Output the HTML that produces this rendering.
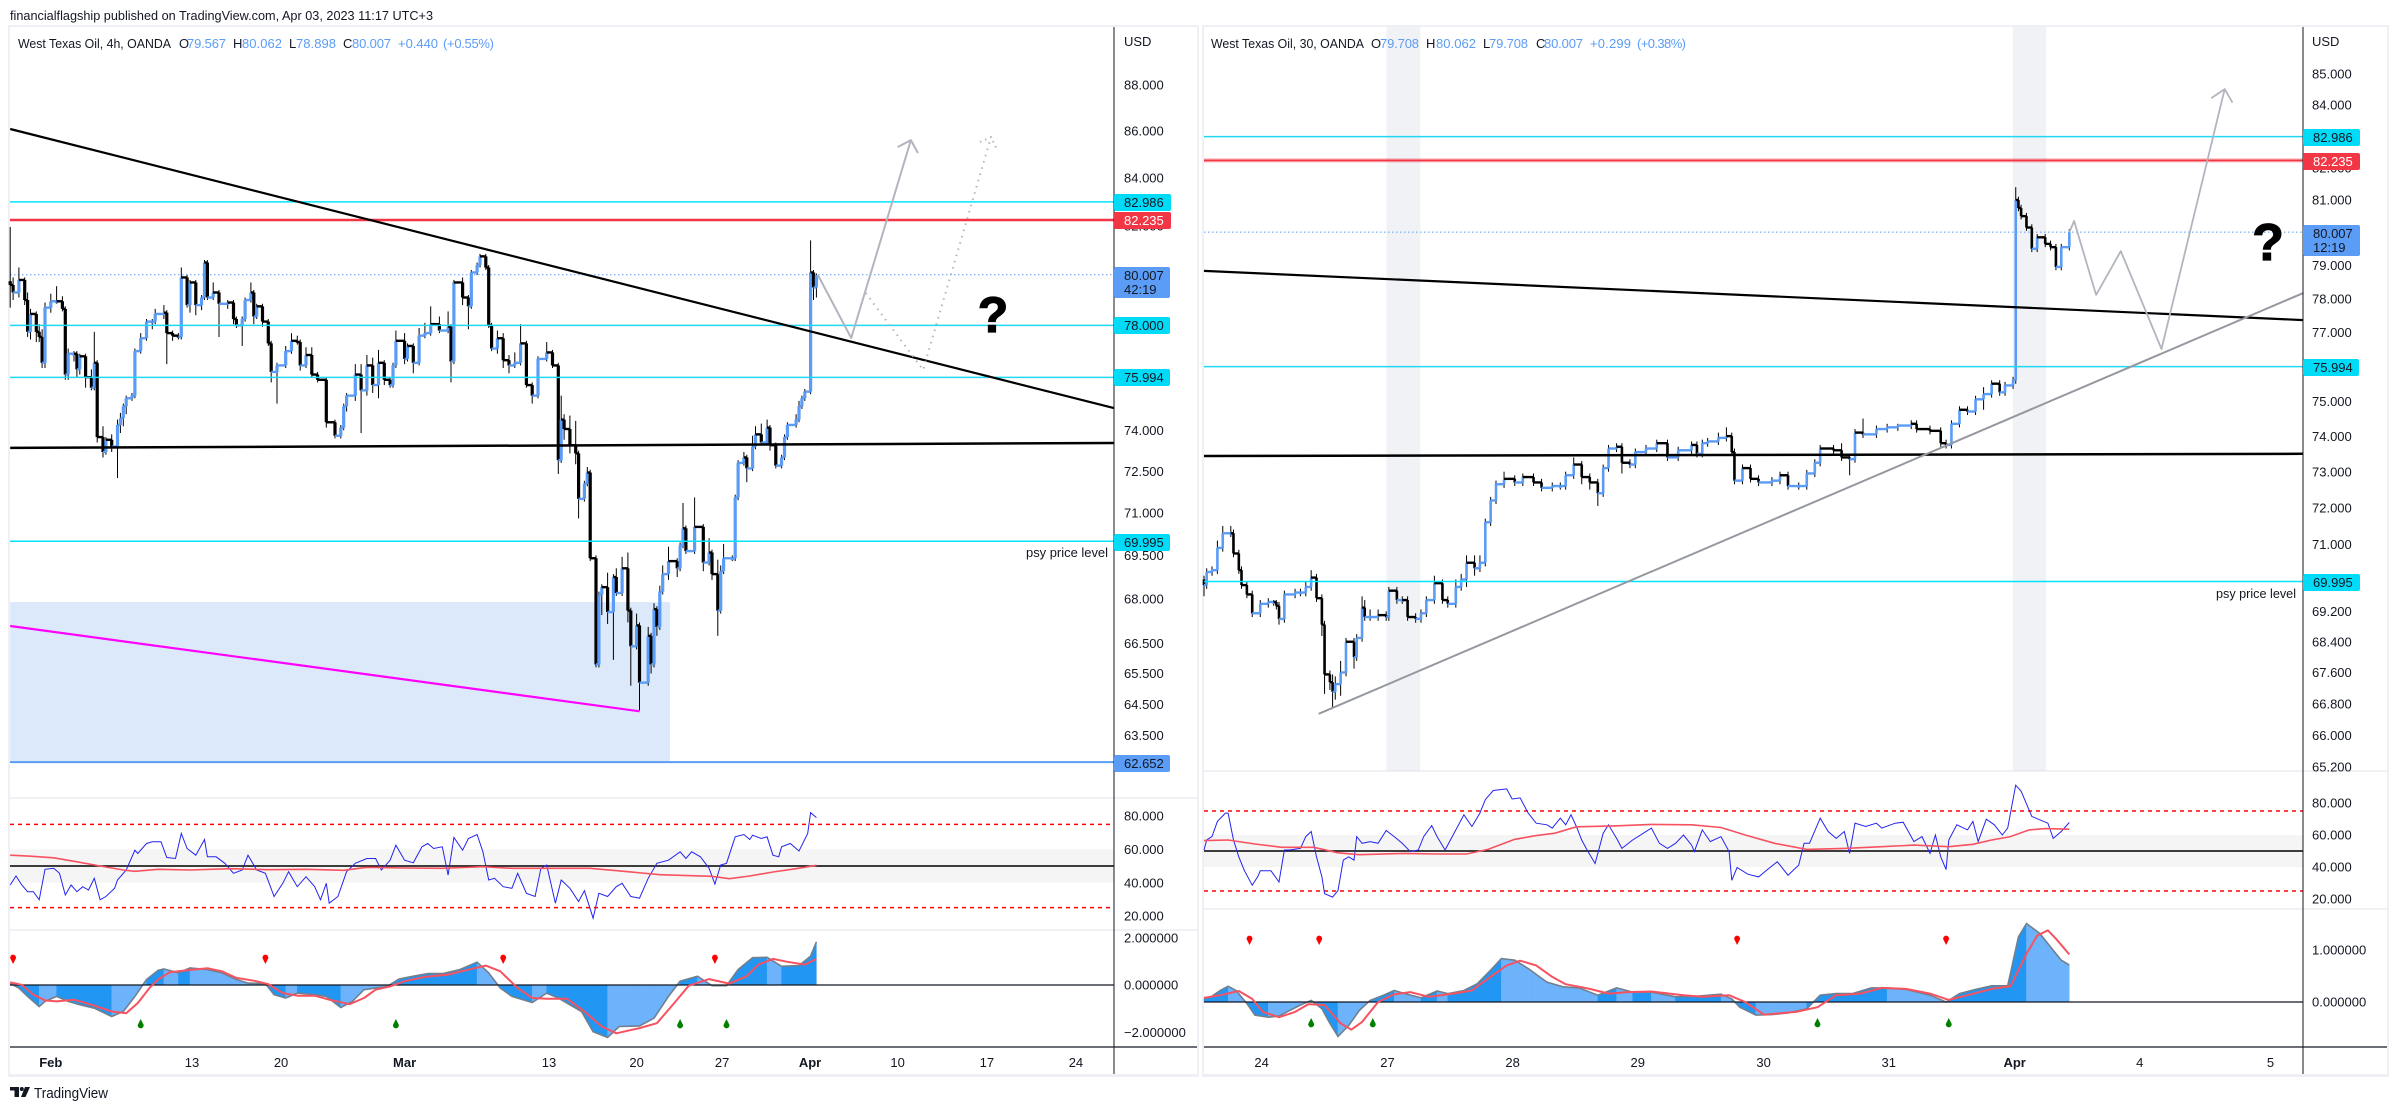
<!DOCTYPE html>
<html lang="en">
<head>
<meta charset="utf-8">
<title>West Texas Oil charts</title>
<style>
html,body{margin:0;padding:0;background:#fff;width:2397px;height:1110px;overflow:hidden}
svg{display:block}
text{font-family:"Liberation Sans",sans-serif;font-size:13px;fill:#131722}
.num{fill:#5b9cf6}
</style>
</head>
<body>
<svg id="root" width="2397" height="1110" viewBox="0 0 2397 1110" xmlns="http://www.w3.org/2000/svg">
  <rect x="8" y="25" width="1191" height="1052" fill="#eff0f5"/>
  <rect x="10" y="27" width="1187" height="1047" fill="#fff"/>
  <rect x="1202" y="25" width="1187" height="1052" fill="#eff0f5"/>
  <rect x="1204" y="27" width="1183" height="1047" fill="#fff"/>
  <text x="10" y="20" textLength="423" lengthAdjust="spacingAndGlyphs">financialflagship published on TradingView.com, Apr 03, 2023 11:17 UTC+3</text>
  <g id="leftLayer"></g>
  <g id="rightLayer"></g>
  <g>
    <text x="18" y="48" textLength="153" lengthAdjust="spacingAndGlyphs">West Texas Oil, 4h, OANDA</text>
    <text x="179" y="48">O</text><text class="num" x="187" y="48" textLength="39">79.567</text>
    <text x="233" y="48">H</text><text class="num" x="242" y="48" textLength="40">80.062</text>
    <text x="289" y="48">L</text><text class="num" x="296" y="48" textLength="40">78.898</text>
    <text x="343" y="48">C</text><text class="num" x="352" y="48" textLength="39">80.007</text>
    <text class="num" x="398" y="48" textLength="40">+0.440</text><text class="num" x="443" y="48" textLength="51">(+0.55%)</text>
  </g>
  <g>
    <text x="1211" y="48" textLength="153" lengthAdjust="spacingAndGlyphs">West Texas Oil, 30, OANDA</text>
    <text x="1371" y="48">O</text><text class="num" x="1380" y="48" textLength="39">79.708</text>
    <text x="1426" y="48">H</text><text class="num" x="1436" y="48" textLength="40">80.062</text>
    <text x="1483" y="48">L</text><text class="num" x="1489" y="48" textLength="39">79.708</text>
    <text x="1536" y="48">C</text><text class="num" x="1544" y="48" textLength="39">80.007</text>
    <text class="num" x="1590" y="48" textLength="41">+0.299</text><text class="num" x="1637" y="48" textLength="49">(+0.38%)</text>
  </g>
  <text x="1124" y="46">USD</text>
  <text x="2312" y="46">USD</text>
  <text x="1108" y="557" text-anchor="end" textLength="82" lengthAdjust="spacingAndGlyphs">psy price level</text>
  <text x="2296" y="598" text-anchor="end" textLength="80" lengthAdjust="spacingAndGlyphs">psy price level</text>
  <text x="993" y="332" text-anchor="middle" style="font-size:50px;font-weight:bold;fill:#000;stroke:#000;stroke-width:1.2">?</text>
  <text x="2268" y="260" text-anchor="middle" style="font-size:52px;font-weight:bold;fill:#000;stroke:#000;stroke-width:1.2">?</text>
  <g>
    <path d="M10 1087H19V1097H14.5V1090.5H10Z" fill="#131722"/>
    <circle cx="21.8" cy="1089" r="2" fill="#131722"/>
    <path d="M21 1097L25 1087H30L25.5 1097Z" fill="#131722"/>
    <text x="34" y="1098" textLength="74" lengthAdjust="spacingAndGlyphs" style="font-size:15px">TradingView</text>
  </g>
</svg>
<script>
/* ---------- left chart (4h) data ---------- */
const leftBars=[0,1,3,5,6,7,9,10,11,12,
14,16,18,19,20,22,23,24,26,28,
29,30,32,33,35,37,38,39,40,42,
43,45,47,49,50,53,54,56,58,59,
61,62,64,66,67,68,70,72,75,77,
78,80,81,83,84,85,87,89,90,92,
95,97,99,100,102,104,106,109,112,114,
115,116,119,121,123,125,127,129,131,132,
133,136,137,139,141,143,145,148,151,152,
153,156,158,159,161,162,164,165,166,168,
170,172,174,176,178,180,182,185,187,189,
190,191,193,195,196,198,199,200,202,203,
204,206,208,209,211,213,214,216,217,220,
221,222,223,224,225,227,230,231,232,233,
236,239,241,242,244,245,246,249,250,251,
253,254,256,257,259,261,262,264,266,267,
268,271,272,273,274,276,277,278];
const leftClose=[79.6,79.3,79.8,79.0,77.75,78.45,77.75,77.55,76.55,78.7,
78.95,78.95,78.65,76.1,76.9,76.9,76.3,76.8,76.0,75.6,
76.55,73.75,73.2,73.65,73.4,74.2,74.45,74.9,75.2,75.3,
77.0,77.5,78.15,78.15,78.45,78.5,77.7,77.6,77.55,79.9,
78.8,79.7,78.8,79.1,80.5,79.1,79.3,78.85,78.9,78.25,
78.0,78.25,79.0,79.3,78.35,78.75,78.15,77.3,76.2,76.45,
77.0,77.4,77.35,76.45,76.85,76.1,75.9,74.3,73.8,74.1,
74.9,75.3,76.1,75.5,76.45,75.7,76.55,75.9,75.7,76.45,
77.4,76.7,77.2,76.55,77.6,77.7,78.05,77.8,77.95,76.6,
79.7,79.1,78.75,80.1,80.4,80.75,80.3,78.0,77.1,77.5,
76.65,76.45,76.55,77.3,75.7,75.3,76.7,76.95,76.45,72.9,
74.4,74.05,73.45,73.15,71.5,72.05,72.45,69.4,65.8,68.15,
68.4,67.55,68.75,68.2,69.05,67.6,66.4,67.1,65.2,66.75,
65.8,67.65,67.05,68.25,68.85,69.3,69.05,69.85,70.45,69.65,
70.5,69.25,69.6,68.85,67.6,68.95,69.4,69.4,71.55,72.8,
73.0,72.6,73.4,73.85,73.55,74.1,73.45,72.7,73.0,73.75,
74.2,74.4,74.9,75.2,75.45,80.1,79.5,80.0];
const leftUpperWick=[2.2,.3,.5,.1,.3,.2,.1,.3,.3,.2,
.3,.6,.2,.1,.2,.1,.1,.1,.1,.3,
1.2,.1,.4,.1,.2,.2,.2,.1,.1,.1,
.1,.2,.1,.1,.2,.3,.1,.1,.1,.4,
.1,.1,.1,.1,.1,.1,.4,.1,.1,.1,
.1,.1,.1,.4,.1,.1,.1,.1,.1,.1,
.2,.3,.2,.1,.3,.3,.1,.1,.1,.1,
.1,.1,.4,.4,.4,.3,.5,.1,.1,.1,
.4,.3,.1,.1,.3,.4,.7,.3,.6,.1,
.1,.2,.1,.1,.1,.1,.1,.1,.1,.3,
.2,.2,.4,.75,.1,.1,.1,.4,.1,.1,
.9,.2,.5,.9,.1,.1,.2,.1,.1,.1,
.1,.5,.1,.3,.4,.55,.1,.4,.1,.3,
.1,.2,.1,.2,.3,.5,.1,.1,.9,.1,
1.05,.1,.5,.1,.5,.2,.5,.1,.1,.1,
.2,.1,.4,.3,.4,.3,.1,.1,.1,.1,
.1,.2,.2,.1,.1,1.3,.1,.06];
const leftLowerWick=[.9,.3,.2,.2,.2,.3,.4,.2,.2,.2,
.2,.1,.1,.2,.2,.3,.3,.2,.4,.1,
.1,.2,.2,.1,.2,1.15,.3,.3,.3,.1,
.1,.1,.1,.3,.1,.2,1.2,.2,.1,.1,
.1,.3,.4,.2,.1,.1,.1,1.3,.2,.2,
.1,.8,.1,.1,.3,.1,.2,.1,.4,1.2,
.1,.1,.1,.2,.1,.1,.1,.2,.1,.1,
.1,.2,.2,1.6,.2,.3,.5,.2,.1,.1,
.1,.2,.1,.4,.1,.1,.1,.1,.1,.8,
.1,.3,.9,.1,.1,.1,.1,.1,.1,.2,
.3,.3,.1,.1,.1,.3,.1,.1,.1,.5,
.1,.4,.3,.4,.7,.1,.1,.1,.1,.1,
.7,.4,1.6,.1,.1,.4,1.3,.1,.9,.1,
.3,.1,.3,.1,.1,.2,.3,.1,.1,.1,
.1,.3,.1,.2,.85,.1,.1,.1,.1,.1,
.1,.5,.1,.1,.1,.1,.2,.1,.1,.1,
.1,.1,.1,.1,.1,.1,.5,.4];
const leftPriceTicks=[88,86,84,82,74,72.5,71,69.5,68,66.5,65.5,64.5,63.5];
const leftDateBars=[14,62.7,93.4,136,185.8,216,245.5,275.8,306,336.8,367.5];
const leftDateLabels=["Feb","13","20","Mar","13","20","27","Apr","10","17","24"];
const leftDateBold=[true,false,false,true,false,false,false,true,false,false,false];
const leftRsiBars=[0,2,4,6,8,10,12,15,17,19,
21,23,25,27,29,31,33,36,37,40,
43,44,47,49,52,54,57,59,61,64,
67,68,71,74,77,80,82,85,88,91,
94,96,99,102,105,107,109,110,113,116,
119,123,126,128,131,133,136,139,142,144,
146,149,151,153,156,158,161,163,165,167,
170,173,175,178,181,183,185,188,190,193,
196,198,201,203,206,209,211,214,217,220,
223,227,231,233,235,238,241,243,245,247,
250,253,255,256,259,261,263,265,266,269,
272,275,276,278];
const leftRsi=[38.6,44,38.6,34.6,34.6,29.7,48,48.6,45.6,32.6,
38.6,34.6,37.6,35.6,42.6,29.7,31.7,36.6,41.6,47.6,
59.5,57.5,63.5,64.5,64.5,55.1,54.5,69.5,60.5,56.5,
65.9,55.5,55.5,51.6,45.6,47.6,56.5,47.6,45.6,31.7,
39.6,46.6,37.6,43.6,37.6,29.7,39.6,27.7,31.7,46.6,
51.6,54.5,54.5,47.6,53.5,62.5,53.5,51.9,61.5,63.5,
60.5,61.5,44.6,67.1,59.5,66.5,68.9,58.5,41.6,42.6,
37.6,36.6,45.6,33.6,31.7,48.6,50.6,27.7,41.6,36.6,
28.7,35.2,18.7,33.6,31.7,37.6,39.6,31.7,30.7,42.6,
51.6,53.5,58.5,54.5,58.5,55.5,48.6,39.2,50.6,51.6,
67.5,68.9,65.9,68.5,66.5,67.5,56.5,55.5,61.5,63.5,
59,69.5,82,79];
const leftRsiMaBars=[0,7,15,23,31,39,43,51,62,76,89,102,115,123,136,149,163,173,200,213,224,242,248,255,263,271,278];
const leftRsiMa=[56.5,55.9,54.9,52.5,50,47.6,46.8,48,47.6,48.4,47.8,48,47.4,49.2,48.8,48.6,49.6,48.6,48.6,46.6,44.8,43.8,42.4,44,46.4,48.4,50.4];
const leftRsiTicks=[80,60,40,20];
const leftMacdBars=[0,3,6,10,12,16,20,24,29,35,39,43,47,51,53,58,62,68,73,78,82,88,91,95,99,105,109,114,118,122,126,130,134,139,144,149,155,161,165,169,173,180,185,189,197,201,206,210,217,222,227,231,237,242,247,251,256,261,266,272,276,278];
const leftMacd=[.06,-.13,-.48,-.91,-.69,-.48,-.69,-.83,-.98,-1.33,-1.12,-.48,.23,.62,.68,.51,.72,.65,.51,.23,.08,.06,-.41,-.55,-.34,-.41,-.48,-.95,-.69,-.2,-.13,-.06,.25,.37,.48,.48,.65,.96,.51,-.13,-.48,-.74,-.34,-.55,-1.12,-1.97,-2.21,-1.75,-1.73,-1.4,-.48,.16,.37,-.03,-.03,.65,1.15,1.17,.79,.82,1.22,1.82];
const leftSignalBars=[0,4,8,12,16,22,28,35,40,44,48,51,55,61,68,73,78,84,89,94,99,105,110,117,122,126,131,136,143,151,157,164,169,175,180,185,192,198,204,209,217,223,229,234,241,248,254,258,263,268,274,278];
const leftSignal=[.11,.01,-.41,-.65,-.69,-.62,-.83,-1.12,-1.19,-.76,-.13,.23,.54,.62,.71,.58,.3,.18,.04,-.34,-.45,-.45,-.62,-.81,-.55,-.2,-.06,.16,.34,.44,.62,.82,.58,-.13,-.55,-.58,-.58,-1.12,-1.75,-2.04,-1.82,-1.61,-.76,-.03,.25,.06,.37,.86,1.1,.98,.86,1.1];
const leftMacdTicks=[2,0,-2];
const leftRedSignalBars=[1,88,170,243];
const leftGreenSignalBars=[45,133,231,247];

/* ---------- right chart (30m) data ---------- */
const rightBars=[0,1,3,5,7,10,11,13,14,16,
18,21,24,26,27,28,30,34,36,38,
40,42,44,45,47,48,49,51,53,56,
57,59,60,62,65,68,69,72,74,76,
79,81,83,86,89,91,94,96,98,101,
103,105,107,109,112,116,119,123,126,130,
133,135,138,141,144,147,149,151,154,156,
159,161,165,169,173,177,182,184,186,188,
192,195,197,198,201,204,207,212,215,218,
222,225,228,230,235,238,241,243,246,251,
255,259,264,266,271,275,277,279,282,285,
288,291,294,297,299,302,303,304,305,307,
309,311,314,316,318,320,323];
const rightClose=[69.9,70.25,70.3,70.9,71.3,71.3,70.75,70.3,69.9,69.65,
69.15,69.4,69.45,69.45,69.35,69.0,69.65,69.7,69.7,69.85,
70.1,69.55,68.85,67.55,67.35,67.1,67.3,67.6,68.4,68.0,
68.5,69.3,69.05,69.05,69.1,69.05,69.75,69.5,69.5,69.05,
69.0,69.15,69.5,69.95,69.5,69.4,69.85,70.05,70.5,70.35,
70.5,71.6,72.2,72.65,72.8,72.7,72.85,72.7,72.55,72.6,
72.6,72.9,73.2,72.85,72.7,72.4,73.1,73.65,73.7,73.25,
73.2,73.55,73.65,73.8,73.4,73.6,73.75,73.5,73.8,73.85,
73.95,74.0,73.55,72.75,73.1,72.8,72.7,72.75,72.9,72.6,
72.6,72.95,73.25,73.65,73.6,73.4,73.35,74.1,74.05,74.2,
74.25,74.3,74.35,74.2,74.15,73.8,73.75,74.35,74.75,74.7,
75.05,75.2,75.5,75.25,75.45,75.6,81.0,80.75,80.5,80.15,
79.5,79.85,79.65,79.55,78.95,79.55,80.0];
const rightUpperWick=[.1,.1,.1,.2,.2,.2,.1,.1,.1,.1,
.1,.1,.1,.05,.05,.1,.1,.1,.1,.15,
.2,.1,.1,.1,.1,.2,.2,.3,.1,.1,
.1,.3,.2,.2,.15,.1,.1,.1,.1,.1,
.1,.1,.1,.2,.1,.1,.2,.15,.2,.2,
.2,.1,.1,.1,.2,.1,.1,.1,.1,.1,
.1,.1,.2,.1,.1,.1,.1,.1,.1,.1,
.1,.1,.1,.1,.1,.1,.1,.1,.1,.1,
.15,.25,.1,.1,.1,.1,.1,.1,.1,.1,
.1,.1,.1,.1,.1,.2,.1,.1,.4,.1,
.1,.05,.1,.1,.1,.1,.1,.1,.1,.1,
.1,.2,.1,.1,.1,.1,.4,.1,.1,.1,
.1,.1,.1,.1,.1,.1,.1];
const rightLowerWick=[.3,.1,.1,.1,.1,.1,.1,.1,.1,.1,
.1,.1,.1,.1,.1,.15,.1,.1,.1,.1,
.1,.1,.3,.5,.2,.4,.2,.3,.1,.3,
.1,.1,.1,.1,.1,.1,.1,.1,.1,.1,
.1,.1,.1,.1,.1,.1,.1,.1,.2,.2,
.1,.1,.1,.1,.1,.1,.1,.1,.1,.1,
.1,.1,.1,.2,.2,.35,.1,.1,.1,.3,
.1,.1,.1,.1,.1,.1,.1,.1,.1,.1,
.1,.1,.1,.1,.1,.1,.1,.1,.1,.1,
.1,.1,.1,.1,.1,.1,.45,.1,.1,.1,
.1,.1,.1,.1,.1,.1,.1,.1,.1,.1,
.1,.3,.1,.1,.1,.1,.1,.1,.1,.1,
.1,.1,.1,.1,.1,.1,.1];
const rightPriceTicks=[85,84,82,81,79,78,77,75,74,73,72,71,69.2,68.4,67.6,66.8,66,65.2];
const rightDateBars=[21.5,68.5,115.2,161.9,208.9,255.6,302.6,349.3,398.1];
const rightDateLabels=["24","27","28","29","30","31","Apr","4","5"];
const rightDateBold=[false,false,false,false,false,false,true,false,false];
const rightRsiBars=[0,1,3,5,8,9,11,13,15,18,
20,21,25,28,30,32,36,38,40,42,
44,45,48,50,52,54,56,57,59,62,
65,68,71,74,77,80,82,85,87,90,
93,97,100,103,105,108,113,115,118,121,
124,128,130,133,135,137,139,141,143,146,
149,151,154,156,160,164,167,170,173,176,
179,182,183,186,189,193,196,197,199,203,
207,210,214,218,222,224,226,230,233,236,
239,241,243,247,251,253,258,261,265,268,
271,273,275,277,278,281,285,287,289,292,
295,298,300,303,305,309,312,315,317,320,323];
const rightRsi=[50.6,56.9,59,68.5,73.7,73.7,56.9,46.4,38,28.6,
33.8,37.6,37.6,30.6,50.6,50.6,51.6,59,62.2,46.4,
33.8,23.3,21.2,25.4,44.3,46.4,44.3,59,54.8,55.9,
54.8,62.8,59,54.8,49.6,50.6,59,65.9,59,50.6,
60,72.6,65.3,73.7,82.1,87.8,88.8,82.5,83.2,73.7,
67.4,66.4,64.3,70.5,66.4,72.6,65.3,56.9,50.6,42.2,
61.1,66.4,57.9,51.6,56.9,61.1,64.3,54.8,51.6,54.8,
60,53.7,49.6,63.2,55.9,59,49.6,31.7,39.7,35.5,
33.8,38,43.3,34.9,41.2,54.8,54.8,70.5,62.2,57.9,
62.2,48.5,67.4,65.3,67.4,64.3,67.4,68,55.9,59,
48.5,60,46.4,38.4,56.9,66.4,63.2,68.5,55.9,69.9,
66.4,60,64.3,91.1,87.4,71.6,69.5,67.4,57.9,62.2,67.8];
const rightRsiMaBars=[0,9,19,29,41,50,58,75,87,98,106,116,124,131,139,153,167,182,193,202,213,225,239,253,265,278,287,294,301,308,314,323];
const rightRsiMa=[56.5,56.9,54.4,52.3,52.3,48.9,47.7,48.5,48.1,48.1,51,57.3,59.6,61.1,65.1,65.7,66.6,66.4,64.7,60,54.8,51,51.6,52.7,53.7,52.7,54.2,56.9,59,63.2,64,63.6];
const rightRsiTicks=[80,60,40,20];
const rightMacdBars=[0,3,6,9,12,16,19,24,28,32,36,40,44,47,50,54,58,62,67,71,75,81,87,91,97,102,107,111,116,121,128,134,140,147,154,160,167,176,184,193,197,200,206,212,218,225,230,236,242,249,255,262,271,277,282,288,294,300,304,307,312,317,320,323];
const rightMacd=[.06,.11,.22,.3,.22,-.03,-.25,-.29,-.27,-.16,-.06,.03,-.13,-.41,-.66,-.45,-.16,.03,.13,.22,.16,.08,.21,.16,.22,.35,.61,.83,.8,.64,.38,.29,.27,.13,.27,.19,.19,.1,.11,.15,.06,-.1,-.25,-.24,-.21,-.13,.13,.16,.16,.27,.27,.24,.13,0,.16,.24,.31,.31,1.24,1.5,1.31,.99,.8,.71];
const rightSignalBars=[0,6,13,18,22,28,34,39,45,51,55,59,65,71,77,84,93,100,105,113,118,124,130,135,144,151,158,167,179,186,196,202,209,221,229,236,245,253,262,271,278,285,294,301,307,311,315,318,323];
const rightSignal=[.08,.13,.21,.06,-.19,-.29,-.19,-.04,-.06,-.41,-.53,-.38,0,.15,.19,.1,.16,.22,.41,.7,.79,.7,.48,.34,.25,.16,.19,.2,.13,.1,.13,0,-.24,-.19,-.1,.13,.16,.27,.25,.16,.04,.13,.25,.3,.92,1.27,1.37,1.21,.91];
const rightMacdTicks=[1,0];
const rightRedSignalBars=[17,43,199,277];
const rightGreenSignalBars=[40,63,229,278];
const rightSessionStart=[68.1,301.9];
const rightSessionEnd=[80.7,314.4];

/* ---------- axis functions ---------- */
const leftX=b=>10.2+2.9*b;
const leftY=p=>85+1993*Math.log(88/p);
const leftRsiY=v=>916-(v-20)*1.667;
const leftMacdY=v=>985-v*23.7;
const rightX=b=>1204+2.679*b;
const rightY=p=>74+2613*Math.log(85/p);
const rightRsiY=v=>899-(v-20)*1.6;
const rightMacdY=v=>1002-v*52.3;

const NS='http://www.w3.org/2000/svg';
function mk(parent,tag,attrs,txt){
  const e=document.createElementNS(NS,tag);
  for(const k in attrs){e.setAttribute(k,attrs[k]);}
  if(txt!==undefined){e.textContent=txt;}
  parent.appendChild(e);
  return e;
}
const UP='#5b9cf6',DOWN='#000000',CY='#00e5ff',RED='#f23645',INK='#131722';

function drawCandles(g,bars,close,upw,dnw,xf,yf,w){
  for(let i=0;i<bars.length;i++){
    const c=close[i];
    const o=i>0?close[i-1]:c+0.15;
    const rising=c>=o;
    const col=rising?UP:DOWN;
    const x=xf(bars[i]);
    const top=Math.max(o,c),bot=Math.min(o,c);
    const wick=mk(g,'line',{x1:x,x2:x,y1:yf(top+upw[i]),y2:yf(bot-dnw[i]),stroke:'#000',"stroke-width":1});
    
    
    if(i>0){
      const link=mk(g,'line',{x1:xf(bars[i-1]),x2:x,y1:yf(o),y2:yf(o),stroke:col,"stroke-width":2.4});
      
      
    }
    const h=Math.max(2,yf(bot)-yf(top));
    const body=mk(g,'rect',{x:x-w/2,y:yf(top),width:w,height:h,fill:col});
    
    
  }
}
function pts(bars,vals,xf,yf){
  return bars.map((b,i)=>xf(b).toFixed(1)+','+yf(vals[i]).toFixed(1)).join(' ');
}
function drawHist(g,bars,vals,xf,yf){
  const y0=yf(0);
  for(let i=1;i<bars.length;i++){
    const rising=Math.abs(vals[i])>=Math.abs(vals[i-1]);
    const a=xf(bars[i-1]),b=xf(bars[i]);
    const seg=mk(g,'polygon',{points:a+','+y0+' '+a+','+yf(vals[i-1])+' '+b+','+yf(vals[i])+' '+b+','+y0,fill:rising?'#2196f3':'#6db3fb',stroke:rising?'#2196f3':'#6db3fb',"stroke-width":.4});
    
    
  }
  const edge=mk(g,'polyline',{points:pts(bars,vals,xf,yf),fill:'none',stroke:'#71808f',"stroke-width":1.6});
  
  
}
function drawDrop(g,x,y,col,up){
  const d=mk(g,'path',{d:'M'+(x-3)+' '+y+'A3 3.4 0 0 '+(up?0:1)+' '+(x+3)+' '+y+'L'+x+' '+(up?y-6:y+6)+'Z',fill:col});
  
  
}
function tickText(g,x,y,t){
  const e=mk(g,'text',{x:x,y:y+4.7},t);
  
  
}
function priceBox(g,x,y,w,h,fill,lines,col){
  const r=mk(g,'rect',{x:x,y:y,width:w,height:h,rx:2,fill:fill});
  
  
  lines.forEach((t,i)=>{
    const e=mk(g,'text',{x:x+10,y:y+13+i*14,style:'fill:'+col},t);
    
    
  });
}
function hline(g,x1,x2,y,col,w,dash,name){
  const l=mk(g,'line',{x1:x1,x2:x2,y1:y,y2:y,stroke:col,"stroke-width":w});
  if(dash){l.setAttribute('stroke-dasharray',dash);}
  
  
  return l;
}
function drawing(g,bars,prices,xf,yf,col,w,name,dash){
  const l=mk(g,'polyline',{points:pts(bars,prices,xf,yf),fill:'none',stroke:col,"stroke-width":w,"stroke-linejoin":"round"});
  if(dash){l.setAttribute('stroke-dasharray',dash);}
  
  
}

/* ---------- drawing levels / annotations (bar number, price) ---------- */
const leftTrendBars=[0,380.6];            const leftTrendPrices=[86.08,74.83];
const leftFlatBars=[0,380.6];             const leftFlatPrices=[73.35,73.53];
const leftMagentaBars=[0,217];            const leftMagentaPrices=[67.08,64.27];
const leftZoneBars=[0,227.5];             const leftZonePrices=[67.89,62.652];
const leftArrowBars=[278.5,290,310.6];    const leftArrowPrices=[80.0,77.51,85.6];
const leftArrowHeadBars=[306,310.6,313];  const leftArrowHeadPrices=[85.3,85.6,85.05];
const leftDotBars=[295,314.8,338.2];      const leftDotPrices=[79.28,76.28,85.73];
const leftDotHeadBars=[334.4,338.2,340.3];const leftDotHeadPrices=[85.52,85.73,85.18];
const rightTrendBars=[0,410.4];           const rightTrendPrices=[78.83,77.36];
const rightFlatBars=[0,410.4];            const rightFlatPrices=[73.44,73.5];
const rightRiseBars=[42.8,410.4];         const rightRisePrices=[66.54,78.17];
const rightArrowBars=[323,324.8,333,342.2,357.4,381]; const rightArrowPrices=[80.0,80.35,78.11,79.43,76.51,84.51];
const rightArrowHeadBars=[376,381,383.9]; const rightArrowHeadPrices=[84.22,84.51,84.07];

/* ---------- left chart ---------- */
(function(){
  const g=document.getElementById('leftLayer');
  const A=1114,L=10,R=1197;
  const zone=mk(g,'rect',{x:leftX(leftZoneBars[0]),y:leftY(leftZonePrices[0]),width:leftX(leftZoneBars[1])-leftX(leftZoneBars[0]),height:leftY(leftZonePrices[1])-leftY(leftZonePrices[0]),fill:'#dce9fb'});
  
  
  hline(g,L,A,leftY(80.007),'#5b9cf6',1,'1.5 2.5','last-price-line');
  drawCandles(g,leftBars,leftClose,leftUpperWick,leftLowerWick,leftX,leftY,3.2);
  hline(g,L,A,leftY(82.986),CY,1.5,null,'level-82-986');
  hline(g,L,A,leftY(82.235),RED,2.5,null,'level-82-235');
  hline(g,L,A,leftY(78),'#1fd8f2',1.5,null,'level-78');
  hline(g,L,A,leftY(75.994),'#1fd8f2',1.5,null,'level-75-994');
  hline(g,L,A,leftY(69.995),CY,1.5,null,'level-69-995');
  hline(g,L,A,leftY(62.652),UP,2,null,'level-62-652');
  drawing(g,leftTrendBars,leftTrendPrices,leftX,leftY,'#000',2.2,'descending-trendline');
  drawing(g,leftFlatBars,leftFlatPrices,leftX,leftY,'#000',2.5,'horizontal-trendline');
  drawing(g,leftMagentaBars,leftMagentaPrices,leftX,leftY,'#ff00ff',2.2,'magenta-trendline');
  drawing(g,leftArrowBars,leftArrowPrices,leftX,leftY,'#b2b5be',2,'projection-arrow');
  drawing(g,leftArrowHeadBars,leftArrowHeadPrices,leftX,leftY,'#b2b5be',2,'projection-arrow-head');
  drawing(g,leftDotBars,leftDotPrices,leftX,leftY,'#b2b5be',2,'dotted-projection','1.5 5');
  drawing(g,leftDotHeadBars,leftDotHeadPrices,leftX,leftY,'#b2b5be',2,'dotted-projection-head','1.5 4');

  /* RSI pane */
  const band=mk(g,'rect',{x:L,y:leftRsiY(60),width:A-L,height:leftRsiY(40)-leftRsiY(60),fill:'#f5f5f5'});
  
  
  hline(g,L,A,leftRsiY(75),'#f00',1.5,'4 4','rsi-upper-bound');
  hline(g,L,A,leftRsiY(25),'#f00',1.5,'4 4','rsi-lower-bound');
  hline(g,L,A,leftRsiY(50),'#000',1.5,null,'rsi-mid-line');
  const rsi=mk(g,'polyline',{points:pts(leftRsiBars,leftRsi,leftX,leftRsiY),fill:'none',stroke:'#2424f0',"stroke-width":1});
  
  
  const rsiMa=mk(g,'polyline',{points:pts(leftRsiMaBars,leftRsiMa,leftX,leftRsiY),fill:'none',stroke:'#f7525f',"stroke-width":1.6});
  
  

  /* MACD pane */
  drawHist(g,leftMacdBars,leftMacd,leftX,leftMacdY);
  hline(g,L,A,leftMacdY(0),INK,1.2,null,'macd-zero-line');
  const sig=mk(g,'polyline',{points:pts(leftSignalBars,leftSignal,leftX,leftMacdY),fill:'none',stroke:'#f7525f',"stroke-width":2,"stroke-linejoin":"round"});
  
  
  leftRedSignalBars.forEach(b=>drawDrop(g,leftX(b),958,'#f00',false));
  leftGreenSignalBars.forEach(b=>drawDrop(g,leftX(b),1025,'#008000',true));

  /* separators and axes */
  hline(g,L,R,798,'#e0e3eb',1,null,'pane-separator');
  hline(g,L,R,930,'#e0e3eb',1,null,'pane-separator');
  hline(g,L,R,1047,INK,1.2,null,'time-axis-line');
  const ax=mk(g,'line',{x1:A,x2:A,y1:27,y2:1074,stroke:INK,"stroke-width":1});
  
  
  leftPriceTicks.forEach(p=>tickText(g,1124,leftY(p),p.toFixed(3)));
  leftRsiTicks.forEach(v=>tickText(g,1124,leftRsiY(v),v.toFixed(3)));
  leftMacdTicks.forEach(v=>tickText(g,1124,leftMacdY(v),(v<0?'\u2212':'')+Math.abs(v).toFixed(6)));
  priceBox(g,1114,194,57,17,'#00dcf8',['82.986'],INK);
  priceBox(g,1114,212,57,17,RED,['82.235'],'#fff');
  priceBox(g,1114,267,56,31,UP,['80.007','42:19'],INK);
  priceBox(g,1114,317,56,17,'#00dcf8',['78.000'],INK);
  priceBox(g,1114,369,56,17,'#00dcf8',['75.994'],INK);
  priceBox(g,1114,534,56,17,'#00dcf8',['69.995'],INK);
  priceBox(g,1114,755,56,17,UP,['62.652'],INK);
  leftDateLabels.forEach((t,i)=>{
    const e=mk(g,'text',{x:leftX(leftDateBars[i]),y:1067,"text-anchor":"middle",style:leftDateBold[i]?'font-weight:bold':''},t);
    
    
  });
})();

/* ---------- right chart ---------- */
(function(){
  const g=document.getElementById('rightLayer');
  const A=2303,L=1204,R=2387;
  rightSessionStart.forEach((s,i)=>{
    const r=mk(g,'rect',{x:rightX(s),y:27,width:rightX(rightSessionEnd[i])-rightX(s),height:744,fill:'#f0f2f5'});
    
    
  });
  hline(g,L,A,rightY(80.007),'#5b9cf6',1,'1.5 2.5','last-price-line');
  drawCandles(g,rightBars,rightClose,rightUpperWick,rightLowerWick,rightX,rightY,2.6);
  hline(g,L,A,rightY(82.986),'#1fd8f2',1.5,null,'level-82-986');
  hline(g,L,A,rightY(82.235),'#f2364566',4,null,'level-82-235-glow');
  hline(g,L,A,rightY(82.235),RED,1.6,null,'level-82-235');
  hline(g,L,A,rightY(75.994),'#1fd8f2',1.5,null,'level-75-994');
  hline(g,L,A,rightY(69.995),CY,1.5,null,'level-69-995');
  drawing(g,rightTrendBars,rightTrendPrices,rightX,rightY,'#000',2.2,'descending-trendline');
  drawing(g,rightFlatBars,rightFlatPrices,rightX,rightY,'#000',2.5,'horizontal-trendline');
  drawing(g,rightRiseBars,rightRisePrices,rightX,rightY,'#9598a1',2,'rising-trendline');
  drawing(g,rightArrowBars,rightArrowPrices,rightX,rightY,'#b2b5be',1.8,'projection-arrow');
  drawing(g,rightArrowHeadBars,rightArrowHeadPrices,rightX,rightY,'#b2b5be',1.8,'projection-arrow-head');

  /* RSI pane */
  const band=mk(g,'rect',{x:L,y:rightRsiY(60),width:A-L,height:rightRsiY(40)-rightRsiY(60),fill:'#f5f5f5'});
  
  
  hline(g,L,A,rightRsiY(75),'#f00',1.5,'4 4','rsi-upper-bound');
  hline(g,L,A,rightRsiY(25),'#f00',1.5,'4 4','rsi-lower-bound');
  hline(g,L,A,rightRsiY(50),'#000',1.5,null,'rsi-mid-line');
  const rsi=mk(g,'polyline',{points:pts(rightRsiBars,rightRsi,rightX,rightRsiY),fill:'none',stroke:'#2424f0',"stroke-width":1});
  
  
  const rsiMa=mk(g,'polyline',{points:pts(rightRsiMaBars,rightRsiMa,rightX,rightRsiY),fill:'none',stroke:'#f7525f',"stroke-width":1.6});
  
  

  /* MACD pane */
  drawHist(g,rightMacdBars,rightMacd,rightX,rightMacdY);
  hline(g,L,A,rightMacdY(0),INK,1.2,null,'macd-zero-line');
  const sig=mk(g,'polyline',{points:pts(rightSignalBars,rightSignal,rightX,rightMacdY),fill:'none',stroke:'#f7525f',"stroke-width":2,"stroke-linejoin":"round"});
  
  
  rightRedSignalBars.forEach(b=>drawDrop(g,rightX(b),939,'#f00',false));
  rightGreenSignalBars.forEach(b=>drawDrop(g,rightX(b),1024,'#008000',true));

  /* separators and axes */
  hline(g,L,R,771,'#e0e3eb',1,null,'pane-separator');
  hline(g,L,R,909,'#e0e3eb',1,null,'pane-separator');
  hline(g,L,R,1047,INK,1.2,null,'time-axis-line');
  const ax=mk(g,'line',{x1:A,x2:A,y1:27,y2:1074,stroke:INK,"stroke-width":1});
  
  
  rightPriceTicks.forEach(p=>tickText(g,2312,rightY(p),p.toFixed(3)));
  rightRsiTicks.forEach(v=>tickText(g,2312,rightRsiY(v),v.toFixed(3)));
  rightMacdTicks.forEach(v=>tickText(g,2312,rightMacdY(v),v.toFixed(6)));
  priceBox(g,2303,129,57,17,'#00dcf8',['82.986'],INK);
  priceBox(g,2303,153,57,17,RED,['82.235'],'#fff');
  priceBox(g,2303,225,57,31,UP,['80.007','12:19'],INK);
  priceBox(g,2303,359,56,17,'#00dcf8',['75.994'],INK);
  priceBox(g,2303,574,57,17,'#00dcf8',['69.995'],INK);
  rightDateLabels.forEach((t,i)=>{
    const e=mk(g,'text',{x:rightX(rightDateBars[i]),y:1067,"text-anchor":"middle",style:rightDateBold[i]?'font-weight:bold':''},t);
    
    
  });
})();
</script>
</body>
</html>
